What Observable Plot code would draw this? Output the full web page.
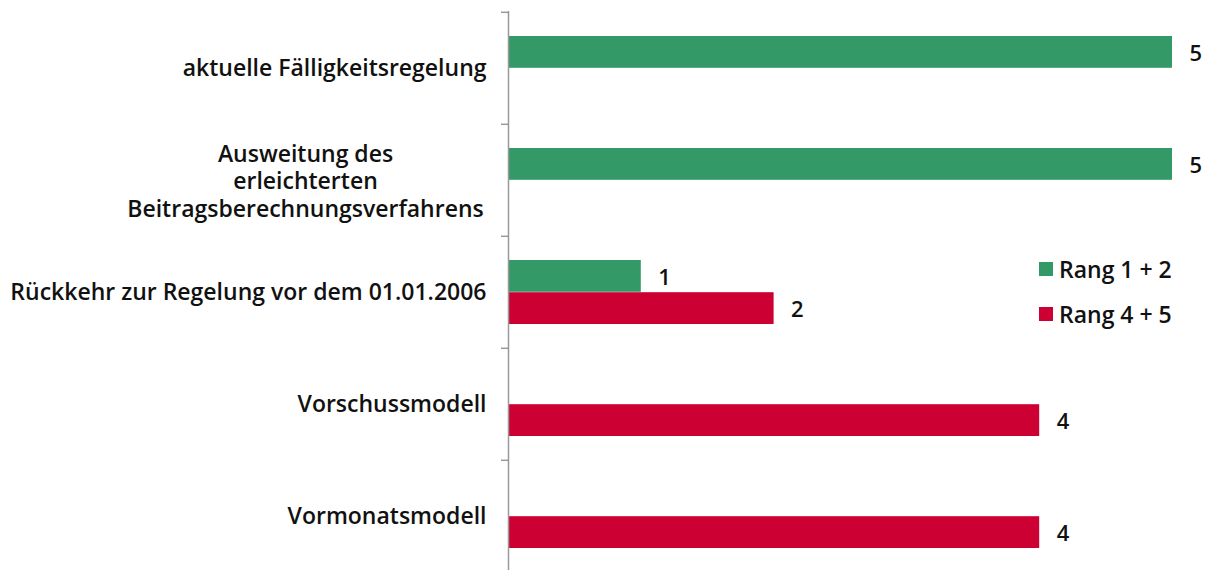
<!DOCTYPE html>
<html>
<head>
<meta charset="utf-8">
<script src="https://cdn.jsdelivr.net/npm/d3@7"></script>
<script src="https://cdn.jsdelivr.net/npm/@observablehq/plot@0.6"></script>
<style>
  html, body { margin: 0; padding: 0; background: #fff; }
  #wrap { position: relative; width: 1210px; height: 570px; overflow: hidden; }
  .legend { position: absolute; left: 1039px; top: 246px; font-family: "Open Sans", sans-serif; font-weight: 600; font-size: 23px; color: #111; }
  .legend div { display: flex; align-items: center; height: 45px; }
  .legend span.sw { display: inline-block; width: 14px; height: 14px; margin-right: 6px; }
</style>
</head>
<body>
<div id="wrap"></div>
<script>
const categories = [
  "aktuelle Fälligkeitsregelung",
  "Ausweitung des\nerleichterten\nBeitragsberechnungsverfahrens",
  "Rückkehr zur Regelung vor dem 01.01.2006",
  "Vorschussmodell",
  "Vormonatsmodell"
];
const seriesNames = ["Rang 1 + 2", "Rang 4 + 5"];
const seriesColors = ["#339966", "#cc0033"];
const rang12 = [5, 5, 1, 0, 0];
const rang45 = [0, 0, 2, 4, 4];

const g = categories.map((c, i) => ({cat: c, value: rang12[i]})).filter(d => d.value > 0);
const r = categories.map((c, i) => ({cat: c, value: rang45[i]})).filter(d => d.value > 0);

const step = 112.4;
const font = "Open Sans, sans-serif";
const fs = 23;
const multi = categories.filter(c => c.includes("\n"));
const single = categories.filter(c => !c.includes("\n"));

const chart = Plot.plot({
  width: 1210,
  height: 570,
  marginLeft: 508,
  marginRight: 38,
  marginTop: 11,
  marginBottom: 0,
  style: {fontFamily: font, background: "transparent"},
  x: {domain: [0, 5], range: [508, 1172], axis: null},
  y: {domain: categories, range: [11, 11 + step * 5], padding: 0, axis: null},
  marks: [
    Plot.barX(g, {y: "cat", x: "value", fill: seriesColors[0], insetTop: 24, insetBottom: step - 56.2}),
    Plot.barX(r, {y: "cat", x: "value", fill: seriesColors[1], insetTop: 56.2, insetBottom: 24}),
    Plot.text(g, {y: "cat", x: "value", text: d => String(d.value), dx: 17, dy: -15, textAnchor: "start", fontSize: fs - 1, fontWeight: 600, fill: "#111"}),
    Plot.text(r, {y: "cat", x: "value", text: d => String(d.value), dx: 17, dy: 17, textAnchor: "start", fontSize: fs - 1, fontWeight: 600, fill: "#111"}),
    Plot.ruleX([0], {stroke: "#999", strokeWidth: 1.5}),
    Plot.tickY(categories, {y: d => d, dy: -step / 2, dx: -7, stroke: "#999", strokeWidth: 1.5, insetLeft: 0, insetRight: 664 - 7}),
    Plot.text(single, {y: d => d, x: 0, text: d => d, dx: -22, textAnchor: "end", fontSize: fs, fontWeight: 600, fill: "#111"}),
    Plot.text(multi, {y: d => d, x: 0, text: d => d, dx: -203, textAnchor: "middle", lineHeight: 1.2, fontSize: fs, fontWeight: 600, fill: "#111"})
  ]
});
document.getElementById("wrap").appendChild(chart);

const leg = document.createElement("div");
leg.className = "legend";
seriesNames.forEach((n, i) => {
  const row = document.createElement("div");
  row.innerHTML = `<span class="sw" style="background:${seriesColors[i]}"></span><span>${n}</span>`;
  leg.appendChild(row);
});
document.getElementById("wrap").appendChild(leg);
</script>
</body>
</html>
